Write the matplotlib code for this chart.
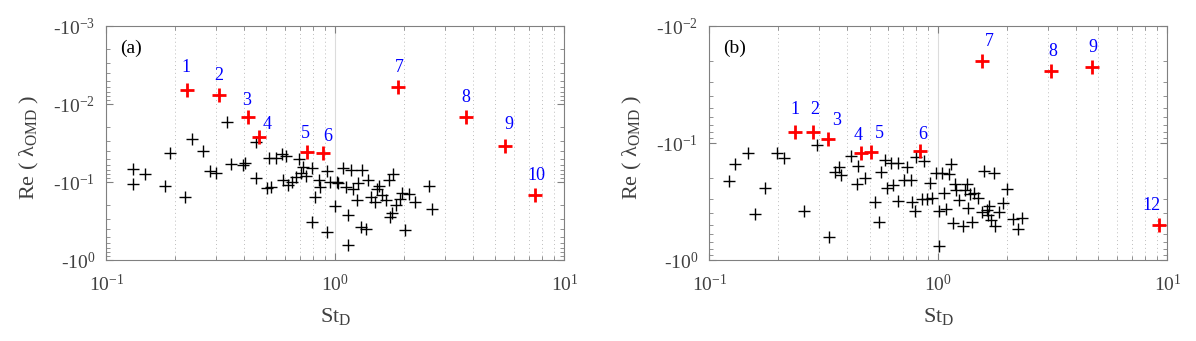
import numpy as np
import matplotlib
matplotlib.use('Agg')
import matplotlib.pyplot as plt
from matplotlib.ticker import LogLocator, NullFormatter

plt.rcParams['font.family'] = ['Liberation Serif', 'DejaVu Serif']
plt.rcParams['mathtext.fontset'] = 'custom'
plt.rcParams['mathtext.rm'] = 'Liberation Serif'
plt.rcParams['mathtext.it'] = 'Liberation Serif:italic'

# ---- panel (a) ----
st_a = [0.130, 0.130, 0.148, 0.180, 0.189, 0.221, 0.236, 0.264, 0.284, 0.300,
        0.337, 0.350, 0.394, 0.404, 0.452, 0.452, 0.501, 0.515, 0.521, 0.552,
        0.583, 0.589, 0.606, 0.620, 0.649, 0.674, 0.696, 0.709, 0.720, 0.742,
        0.787, 0.793, 0.818, 0.844, 0.860, 0.918, 0.918, 0.947, 0.992, 1.011,
        1.031, 1.084, 1.114, 1.135, 1.135, 1.166, 1.194, 1.250, 1.240, 1.299,
        1.309, 1.365, 1.392, 1.431, 1.486, 1.514, 1.546, 1.593, 1.668, 1.714,
        1.733, 1.769, 1.781, 1.837, 1.909, 1.962, 2.023, 2.088, 2.228, 2.551, 2.629]
re_a = [-0.0687, -0.107, -0.0796, -0.1114, -0.0428, -0.154, -0.0279, -0.0401, -0.0716, -0.0760,
        -0.01687, -0.0593, -0.0605, -0.0575, -0.0310, -0.0897, -0.1205, -0.0497, -0.1148, -0.0497,
        -0.0438, -0.0942, -0.0464, -0.110, -0.0991, -0.0855, -0.0512, -0.0773, -0.0637, -0.0830,
        -0.0667, -0.323, -0.154, -0.0942, -0.1148, -0.0723, -0.434, -0.101, -0.201, -0.0991,
        -0.104, -0.0667, -0.1148, -0.265, -0.643, -0.0702, -0.123, -0.104, -0.170, -0.374,
        -0.0702, -0.397, -0.0942, -0.154, -0.179, -0.123, -0.1124, -0.147, -0.170, -0.0942,
        -0.279, -0.252, -0.0789, -0.197, -0.165, -0.140, -0.412, -0.144, -0.179, -0.1114, -0.222]
sel_st_a = [0.225, 0.310, 0.416, 0.464, 0.748, 0.885, 1.87, 3.71, 5.50, 7.45]
sel_re_a = [-0.00662, -0.00768, -0.01483, -0.02624, -0.0409, -0.0428, -0.0060, -0.01483, -0.0343, -0.147]
sel_lab_a = ['1', '2', '3', '4', '5', '6', '7', '8', '9', '10']

# ---- panel (b) ----
st_b = [0.122, 0.129, 0.148, 0.158, 0.174, 0.198, 0.212, 0.260, 0.294, 0.333,
        0.353, 0.367, 0.377, 0.415, 0.444, 0.439, 0.479, 0.531, 0.548, 0.563,
        0.585, 0.596, 0.619, 0.631, 0.663, 0.663, 0.708, 0.729, 0.758, 0.764,
        0.787, 0.802, 0.850, 0.866, 0.890, 0.917, 0.942, 0.979, 1.009, 1.009,
        1.037, 1.057, 1.077, 1.110, 1.140, 1.163, 1.185, 1.198, 1.231, 1.279,
        1.304, 1.329, 1.343, 1.380, 1.408, 1.435, 1.491, 1.549, 1.579, 1.627,
        1.640, 1.671, 1.690, 1.756, 1.770, 1.839, 1.911, 1.986, 2.127, 2.227, 2.312]
re_b = [-0.211, -0.151, -0.1225, -0.406, -0.244, -0.1225, -0.135, -0.379, -0.104, -0.640,
        -0.178, -0.159, -0.188, -0.129, -0.156, -0.226, -0.200, -0.322, -0.477, -0.176,
        -0.140, -0.244, -0.149, -0.229, -0.147, -0.311, -0.207, -0.161, -0.207, -0.318,
        -0.379, -0.131, -0.303, -0.142, -0.303, -0.218, -0.297, -0.182, -0.755, -0.381,
        -0.182, -0.266, -0.369, -0.185, -0.152, -0.480, -0.226, -0.252, -0.307, -0.512,
        -0.252, -0.226, -0.357, -0.274, -0.471, -0.266, -0.294, -0.386, -0.173, -0.374,
        -0.412, -0.346, -0.455, -0.182, -0.509, -0.386, -0.324, -0.247, -0.449, -0.547, -0.435]
sel_st_b = [0.236, 0.284, 0.329, 0.459, 0.510, 0.834, 1.552, 3.10, 4.68, 9.18]
sel_re_b = [-0.0800, -0.0800, -0.0918, -0.1225, -0.1186, -0.1165, -0.0199, -0.0243, -0.0224, -0.504]
sel_lab_b = ['1', '2', '3', '4', '5', '6', '7', '8', '9', '12']

# label offsets (points) for the mode numbers
off_a = [(-1, 16), (0, 14), (-1, 12), (6, 9), (-1, 13), (3, 12), (1, 14), (0, 14), (3, 15), (1, 14)]
off_b = [(0, 16), (1, 16), (6, 13), (-2, 13), (6, 13), (2, 12), (5, 14), (1, 14), (1, 14), (-5, 14)]

grey = '#808080'
txt = '#404040'


def panel(ax, st, re, sst, sre, labs, offs, ylo, tag):
    ax.plot(st, np.abs(re), '+', color='k', ms=9, mew=1.0, ls='none')
    ax.plot(sst, np.abs(sre), '+', color='red', ms=10, mew=2.0, ls='none')
    for x, y, s, o in zip(sst, sre, labs, offs):
        ax.annotate(s, (x, abs(y)), xytext=o, textcoords='offset points',
                    ha='center', va='center', color='blue', fontsize=13)
    ax.set_xscale('log')
    ax.set_yscale('log')
    ax.set_xlim(0.1, 10)
    ax.set_ylim(1, ylo)
    ax.set_xticks([0.1, 1, 10])
    ax.set_xticklabels(['10$^{-1}$', '10$^{0}$', '10$^{1}$'])
    decs = [10.0 ** k for k in range(int(round(np.log10(ylo))), 1)]
    ax.set_yticks(decs)
    ax.set_yticklabels(['-10$^{%d}$' % int(round(np.log10(d))) for d in decs])
    ax.xaxis.set_minor_locator(LogLocator(base=10, subs=np.arange(2, 10), numticks=20))
    ax.yaxis.set_minor_locator(LogLocator(base=10, subs=np.arange(2, 10), numticks=20))
    ax.xaxis.set_minor_formatter(NullFormatter())
    ax.yaxis.set_minor_formatter(NullFormatter())
    ax.grid(True, which='major', axis='x', color='#dcdcdc', lw=0.8, ls='-')
    ax.grid(True, which='minor', axis='x', color='#bdbdbd', lw=0.7, ls=(0, (1, 3)))
    ax.set_axisbelow(True)
    ax.tick_params(which='both', direction='in', top=True, right=True, colors=grey,
                   labelcolor=txt, labelsize=14)
    ax.tick_params(which='major', length=5, width=0.8)
    ax.tick_params(which='minor', length=3, width=0.6)
    ax.tick_params(axis='x', pad=10)
    ax.tick_params(axis='y', pad=8)
    for sp in ax.spines.values():
        sp.set_color(grey)
        sp.set_linewidth(0.8)
    ax.set_xlabel('St$_{\\mathregular{D}}$', fontsize=16, color=txt)
    ax.set_ylabel('Re ( λ$_{\\mathregular{OMD}}$ )', fontsize=16, color=txt)
    ax.xaxis.set_label_coords(0.5, -0.195)
    ax.yaxis.set_label_coords(-0.143, 0.48)
    ax.text(0.03, 0.905, tag, transform=ax.transAxes, fontsize=14, color='k',
            ha='left', va='center')


fig = plt.figure(figsize=(11.96, 3.41), dpi=100)
ax1 = fig.add_axes([0.0890, 0.2375, 0.3829, 0.6862])
ax2 = fig.add_axes([0.5932, 0.2375, 0.3829, 0.6862])
panel(ax1, st_a, re_a, sel_st_a, sel_re_a, sel_lab_a, off_a, 1e-3, '(a)')
panel(ax2, st_b, re_b, sel_st_b, sel_re_b, sel_lab_b, off_b, 1e-2, '(b)')
fig.savefig('out.png', dpi=100)
